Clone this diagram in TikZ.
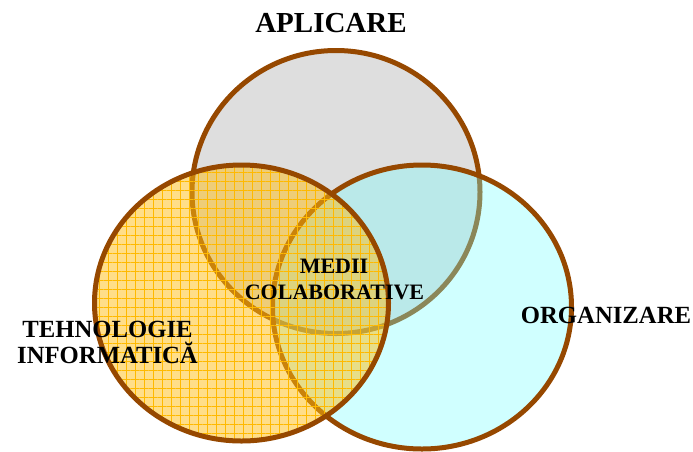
\documentclass[tikz,border=0pt]{standalone}
\usepackage{fontspec}
\setmainfont{Liberation Serif}
\usetikzlibrary{shapes.geometric,patterns.meta}
\definecolor{rim}{RGB}{150,72,0}
\definecolor{greyfill}{RGB}{222,222,222}
\definecolor{cyanfill}{RGB}{120,255,255}
\definecolor{orfill}{RGB}{255,190,20}
\definecolor{orgrid}{RGB}{255,185,0}
\begin{document}
\begin{tikzpicture}[x=1pt,y=-1pt,
  setring/.style={ellipse, draw=rim, line width=5pt, inner sep=0pt, draw opacity=1},
  biglbl/.style={font=\fontsize{29}{29}\selectfont\bfseries, inner sep=0pt, anchor=base},
  lbl/.style={font=\fontsize{24.7}{27}\selectfont\bfseries, inner sep=0pt, anchor=base},
  midlbl/.style={font=\fontsize{22}{25}\selectfont\bfseries, inner sep=0pt, anchor=base}]
\useasboundingbox (0,0) rectangle (693,451);
% top set
\node[setring, fill=greyfill, minimum width=288pt, minimum height=283pt] (apl) at (336,192) {};
% right set
\node[setring, fill=cyanfill, fill opacity=0.35, minimum width=299pt, minimum height=284pt] (org) at (422,307) {};
% left set
\node[setring,
  preaction={fill=orfill, fill opacity=0.5},
  preaction={pattern={Lines[angle=0,distance=9pt,line width=0.6pt]}, pattern color=orgrid, fill opacity=0.4},
  pattern={Lines[angle=90,distance=9pt,line width=0.6pt]}, pattern color=orgrid, fill opacity=0.4,
  minimum width=294pt, minimum height=276pt] (teh) at (241.5,303) {};
% labels
\node[biglbl] (tapl) at (331,32) {APLICARE};
\node[midlbl] (tmed1) at (334,273) {MEDII};
\node[midlbl] (tmed2) at (334.5,299) {COLABORATIVE};
\node[lbl] (torg) at (606,323) {ORGANIZARE};
\node[lbl] (tteh1) at (107.5,337) {TEHNOLOGIE};
\node[lbl] (tteh2) at (107.5,363) {INFORMATICĂ};
\end{tikzpicture}
\end{document}
